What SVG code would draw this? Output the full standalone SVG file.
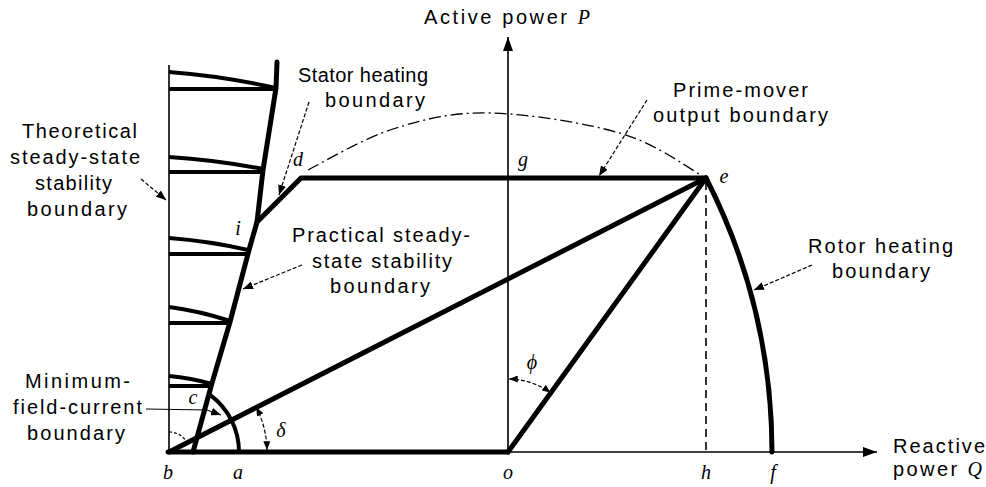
<svg xmlns="http://www.w3.org/2000/svg" width="986" height="487" viewBox="0 0 986 487">
<style>
.k{stroke:#000;fill:none}
.thick{stroke:#000;fill:none;stroke-width:5;stroke-linejoin:round;stroke-linecap:round}
.med{stroke:#000;fill:none;stroke-width:4;stroke-linecap:butt}
.thin{stroke:#000;fill:none;stroke-width:1.6}
.lead{stroke:#000;fill:none;stroke-width:1.2;stroke-dasharray:4 2;marker-end:url(#ah)}
.ang{stroke:#000;fill:none;stroke-width:1.2;stroke-dasharray:4 2;marker-start:url(#ah2);marker-end:url(#ah2)}
.lbl{font-family:"Liberation Sans",Arial,sans-serif;font-size:20px;fill:#000}
.var{font-family:"Liberation Serif","Times New Roman",serif;font-style:italic;font-size:20px;fill:#000;text-anchor:middle}
</style>
<defs>
<marker id="ah" viewBox="0 0 10 8" refX="10" refY="4" markerWidth="10" markerHeight="8" markerUnits="userSpaceOnUse" orient="auto"><path d="M0,0 L10,4 L0,8 Z" fill="#000"/></marker>
<marker id="ah2" viewBox="0 0 10 8" refX="10" refY="4" markerWidth="9" markerHeight="7" markerUnits="userSpaceOnUse" orient="auto-start-reverse"><path d="M0,0 L10,4 L0,8 Z" fill="#000"/></marker>
<marker id="axh" viewBox="0 0 14 10" refX="14" refY="5" markerWidth="14" markerHeight="10" markerUnits="userSpaceOnUse" orient="auto"><path d="M0,0 L14,5 L0,10 Z" fill="#000"/></marker>
</defs>
<rect width="986" height="487" fill="#fff"/>

<g id="axes">
<line class="thin" x1="508" y1="452" x2="508" y2="37" marker-end="url(#axh)"/>
<line class="thin" x1="508" y1="452" x2="877" y2="452" marker-end="url(#axh)"/>
<line class="thin" x1="169" y1="65" x2="169" y2="452"/>
<line class="thin" x1="706" y1="182" x2="706" y2="452" stroke-dasharray="8 5"/>
</g>

<g id="theoretical-stability-arcs">
<path class="med" d="M169,72 Q222,76 276,88"/>
<line class="med" x1="169" y1="89" x2="276" y2="89"/>
<path class="med" d="M169,157 Q216,160 263,169"/>
<line class="med" x1="169" y1="172" x2="263" y2="172"/>
<path class="med" d="M169,238 Q209,241 248,250"/>
<line class="med" x1="169" y1="254" x2="248" y2="254"/>
<path class="med" d="M169,307 Q200,311 230,321"/>
<line class="med" x1="169" y1="323" x2="230" y2="323"/>
<path class="med" d="M169,376 Q191,378 212,384"/>
<line class="med" x1="169" y1="386" x2="212" y2="386"/>
</g>

<g id="boundaries">
<polyline class="thick" points="277,62 276,88 263,170 257,222 249,250 230,322 212,383 193,452"/>
<polyline class="thick" points="257,222 301,178 706,178"/>
<line class="thick" x1="168" y1="452" x2="508" y2="452"/>
<line class="thick" x1="169" y1="452" x2="706" y2="178"/>
<line class="thick" x1="508" y1="452" x2="706" y2="178"/>
<path class="thick" d="M706,178 A604,604 0 0 1 772,452"/>
<path class="med" d="M210,394.8 A71,71 0 0 1 239,452"/>
<path class="k" stroke-width="1.3" stroke-dasharray="12 4 2 4" d="M308,170 C322,163 363,138.5 393,129 C423,119.5 452,112 490,113 C528,113.8 587,123 623,134 C659,145 692,171 706,178"/>
</g>

<g id="angles">
<path class="ang" d="M256.2,407.1 A99,99 0 0 1 267,450"/>
<path class="ang" d="M509,379 A73,73 0 0 1 550.8,392.8"/>
<path class="k" stroke-width="1.2" stroke-dasharray="3 2" d="M169,432 A20,20 0 0 1 186,441"/>
</g>

<g id="connectors">
<path class="lead" d="M141,179 L166,200"/>
<path class="lead" d="M309,102 L279,195"/>
<path class="lead" d="M302,265 L243,289"/>
<path class="lead" d="M647,100 L599,176"/>
<path class="lead" d="M812,265 L754,290"/>
<path class="k" stroke-width="1.2" d="M146,409 L207,410 L221,415" marker-end="url(#ah)"/>
</g>

<g id="point-labels">
<text class="var" x="168" y="479">b</text>
<text class="var" x="238" y="479">a</text>
<text class="var" x="508" y="479">o</text>
<text class="var" x="706" y="479">h</text>
<text class="var" x="773" y="479">f</text>
<text class="var" x="193" y="404">c</text>
<text class="var" x="238" y="235">i</text>
<text class="var" x="298" y="166">d</text>
<text class="var" x="523" y="166">g</text>
<text class="var" x="724" y="183">e</text>
<text class="var" x="281" y="437">δ</text>
<text class="var" x="532" y="369">ϕ</text>
</g>

<g id="text-labels">
<text class="lbl" x="424" y="24" textLength="166" lengthAdjust="spacing">Active power <tspan font-family="Liberation Serif, serif" font-style="italic">P</tspan></text>
<text class="lbl" x="893" y="453" textLength="92" lengthAdjust="spacing">Reactive</text>
<text class="lbl" x="893" y="476" textLength="89" lengthAdjust="spacing">power <tspan font-family="Liberation Serif, serif" font-style="italic">Q</tspan></text>
<text class="lbl" x="22" y="138" textLength="115" lengthAdjust="spacing">Theoretical</text>
<text class="lbl" x="10" y="164" textLength="130" lengthAdjust="spacing">steady-state</text>
<text class="lbl" x="35" y="190" textLength="77" lengthAdjust="spacing">stability</text>
<text class="lbl" x="27" y="216" textLength="100" lengthAdjust="spacing">boundary</text>
<text class="lbl" x="25" y="388" textLength="105" lengthAdjust="spacing">Minimum-</text>
<text class="lbl" x="13" y="414" textLength="129" lengthAdjust="spacing">field-current</text>
<text class="lbl" x="27" y="440" textLength="98" lengthAdjust="spacing">boundary</text>
<text class="lbl" x="298" y="82" textLength="130" lengthAdjust="spacing">Stator heating</text>
<text class="lbl" x="325" y="107" textLength="100" lengthAdjust="spacing">boundary</text>
<text class="lbl" x="292" y="242" textLength="178" lengthAdjust="spacing">Practical steady-</text>
<text class="lbl" x="312" y="268" textLength="140" lengthAdjust="spacing">state stability</text>
<text class="lbl" x="330" y="293" textLength="100" lengthAdjust="spacing">boundary</text>
<text class="lbl" x="673" y="97" textLength="135" lengthAdjust="spacing">Prime-mover</text>
<text class="lbl" x="653" y="122" textLength="175" lengthAdjust="spacing">output boundary</text>
<text class="lbl" x="808" y="253" textLength="145" lengthAdjust="spacing">Rotor heating</text>
<text class="lbl" x="832" y="278" textLength="98" lengthAdjust="spacing">boundary</text>
</g>
</svg>
